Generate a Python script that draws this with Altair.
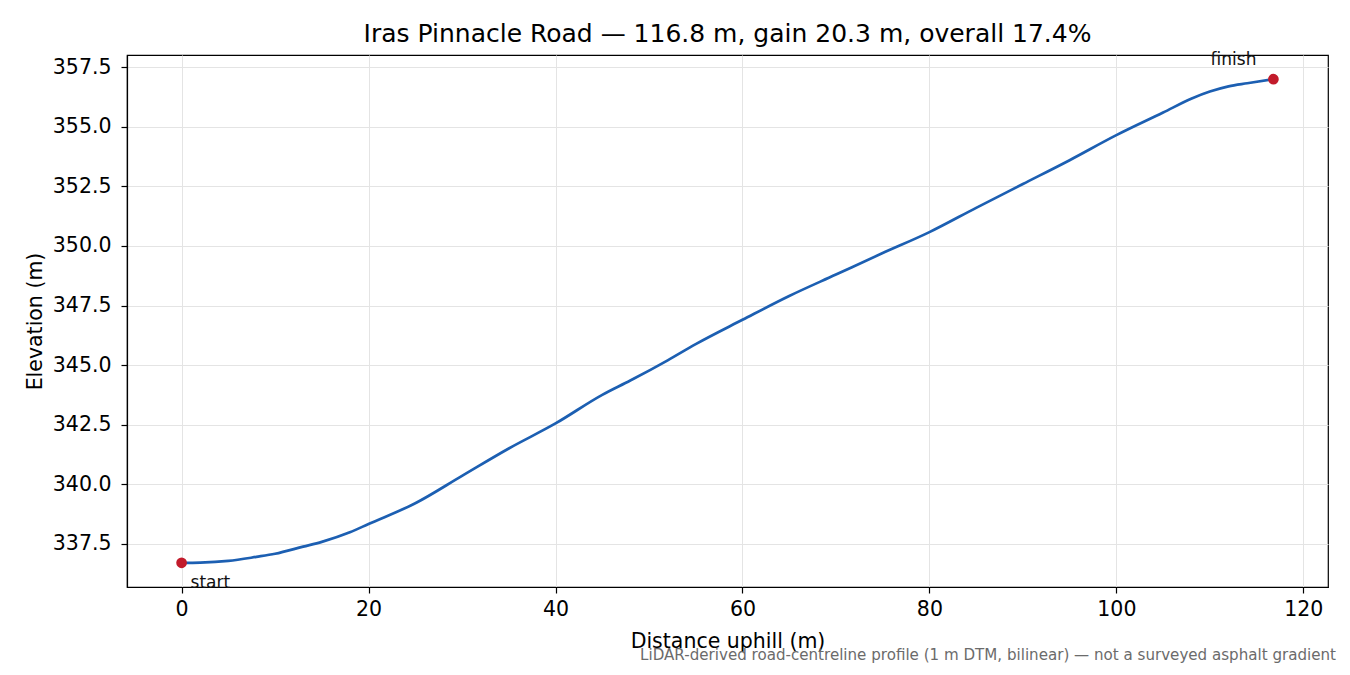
# Perfil de elevação da estrada com Altair
# Descrição: linha do perfil, pontos de início/fim, título e nota de rodapé.

import altair as alt
import pandas as pd

# Dados
distancia = [0, 2, 5, 8, 10, 13, 15, 18, 20, 25, 30, 35, 40, 45, 48, 52, 55,
             60, 65, 70, 75, 80, 85, 90, 95, 100, 105, 108, 110, 112, 114, 116.8]
elevacao = [336.70, 336.71, 336.78, 336.95, 337.08, 337.38, 337.58, 337.98,
            338.33, 339.20, 340.35, 341.50, 342.55, 343.75, 344.35, 345.20,
            345.88, 346.90, 347.90, 348.80, 349.70, 350.58, 351.60, 352.60,
            353.60, 354.65, 355.60, 356.18, 356.48, 356.70, 356.83, 357.00]

# Pontos extremos e rótulos
pontos_dist = [0, 116.8]
pontos_elev = [336.70, 357.00]
pontos_rotulo = ['start', 'finish']

titulo = 'Iras Pinnacle Road — 116.8 m, gain 20.3 m, overall 17.4%'
rodape = 'LiDAR-derived road-centreline profile (1 m DTM, bilinear) — not a surveyed asphalt gradient'

ticks_x = [0, 20, 40, 60, 80, 100, 120]
ticks_y = [337.5, 340.0, 342.5, 345.0, 347.5, 350.0, 352.5, 355.0, 357.5]

FONTE = 'DejaVu Sans'
LARGURA, ALTURA = 1201, 532

df = pd.DataFrame({'dist': distancia, 'elev': elevacao})
df_pts = pd.DataFrame({'dist': pontos_dist, 'elev': pontos_elev, 'rotulo': pontos_rotulo})

# Escalas compartilhadas (margem de 5% como no original)
escala_x = alt.Scale(domain=[-5.84, 122.64], nice=False, zero=False)
escala_y = alt.Scale(domain=[335.685, 358.015], nice=False, zero=False)

x = alt.X('dist:Q', scale=escala_x, title='Distance uphill (m)',
          axis=alt.Axis(values=ticks_x, format='d', titleY=60, titleBaseline='alphabetic'))
y = alt.Y('elev:Q', scale=escala_y, title='Elevation (m)',
          axis=alt.Axis(values=ticks_y, format='.1f', titleX=-86, titleY=266,
                        titleBaseline='alphabetic'))

# Linha do perfil
linha = alt.Chart(df).mark_line(color='#1c5fb2', strokeWidth=2.7, interpolate='monotone').encode(x=x, y=y)

# Pontos de início e fim
pontos = alt.Chart(df_pts).mark_circle(color='#c21b2b', size=115, opacity=1).encode(x=x, y=y)

# Rótulos dos pontos
rot_inicio = alt.Chart(df_pts[df_pts.rotulo == 'start']).mark_text(
    align='left', baseline='alphabetic', dx=9, dy=25, font=FONTE, fontSize=17, color='#111111'
).encode(x=x, y=y, text='rotulo:N')
rot_fim = alt.Chart(df_pts[df_pts.rotulo == 'finish']).mark_text(
    align='right', baseline='alphabetic', dx=-17, dy=-14, font=FONTE, fontSize=17, color='#111111'
).encode(x=x, y=y, text='rotulo:N')

# Título como texto (posição fixa acima da área do gráfico)
cabecalho = alt.Chart(pd.DataFrame({'t': [titulo]})).mark_text(
    align='center', baseline='alphabetic', font=FONTE, fontSize=25, color='black'
).encode(x=alt.value(LARGURA / 2), y=alt.value(-12.7), text='t:N')

# Nota de rodapé (fora da área do gráfico)
nota = alt.Chart(pd.DataFrame({'t': [rodape]})).mark_text(
    align='right', baseline='alphabetic', font=FONTE, fontSize=15.1, color='#6b6b6b'
).encode(x=alt.value(1209), y=alt.value(604.5), text='t:N')

chart = (alt.layer(linha, pontos, rot_inicio, rot_fim, cabecalho, nota)
         .properties(width=LARGURA, height=ALTURA,
                     autosize=alt.AutoSizeParams(type='none'),
                     padding={'left': 119, 'top': 47, 'right': 14, 'bottom': 80})
         .configure_view(stroke='black', strokeWidth=1.2)
         .configure_axis(labelFont=FONTE, labelFontSize=20.5, labelColor='black',
                         titleFont=FONTE, titleFontSize=20.5, titleFontWeight='normal',
                         titleColor='black', domainColor='black', domainWidth=1.2,
                         tickColor='black', tickWidth=1.2, tickSize=6, labelPadding=6,
                         gridColor='#e4e4e4', gridWidth=1)
         .configure_axisY(labelPadding=10)
         )

chart.save('out.html', embed_options={'renderer': 'svg', 'actions': False})
